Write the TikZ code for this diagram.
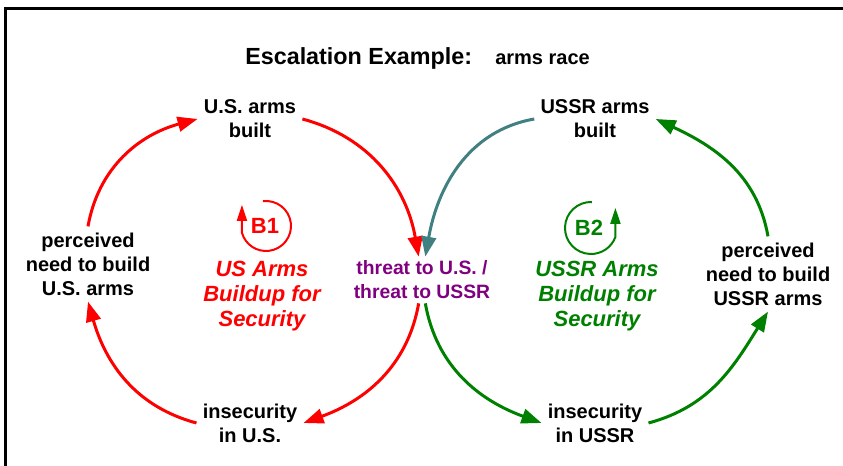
\documentclass[tikz,border=0pt]{standalone}
\usepackage{fontspec}
\setmainfont{Liberation Sans}
\usepackage{tikz}
\usetikzlibrary{arrows.meta}
\definecolor{cred}{HTML}{FF0000}
\definecolor{cgreen}{HTML}{008000}
\definecolor{cteal}{HTML}{408080}
\definecolor{cpurple}{HTML}{800080}
\tikzset{
  var/.style={align=center,inner sep=4.5pt,font=\bfseries\fontsize{15}{18}\selectfont},
  mid/.style={var,inner sep=3pt,text=cpurple,font=\bfseries\fontsize{14.5}{18}\selectfont},
  loopname/.style={align=center,inner sep=0pt,font=\bfseries\itshape\fontsize{16.5}{19}\selectfont},
  looptag/.style={inner sep=0pt,font=\bfseries\fontsize{16.5}{19}\selectfont},
  lnk/.style={line width=2.25pt,-{Triangle[length=15pt,width=11pt]}},
  lnkr/.style={lnk,draw=cred},
  lnkg/.style={lnk,draw=cgreen},
  lnkt/.style={lnk,draw=cteal},
  loopsym/.style={line width=1.5pt,-{Triangle[length=12pt,width=7.5pt]}},
}
\begin{document}
\begin{tikzpicture}[x=0.75pt,y=0.75pt]
  \useasboundingbox (0,0) rectangle (843,466);
  \draw[line width=2.25pt] (5.5,0) -- (5.5,457.5) -- (843,457.5);
  \node[anchor=base west,inner sep=0pt,font=\bfseries\fontsize{17.5}{20}\selectfont] (title) at (245,401) {Escalation Example:};
  \node[anchor=base west,inner sep=0pt,font=\bfseries\fontsize{15}{18}\selectfont] (subtitle) at (495,401) {arms race};
  \node[var] (usb) at (250,347) {U.S. arms\\built};
  \node[var] (ussrb) at (595,347) {USSR arms\\built};
  \node[var] (percus) at (88,202) {perceived\\need to build\\U.S. arms};
  \node[var] (percussr) at (768,192) {perceived\\need to build\\USSR arms};
  \node[mid] (threat) at (422,186) {threat to U.S. /\\threat to USSR};
  \node[var] (insus) at (250,43) {insecurity\\in U.S.};
  \node[var] (insussr) at (595,43) {insecurity\\in USSR};
  \node[looptag,text=cred] (b1) at (265,240) {B1};
  \node[looptag,text=cgreen] (b2) at (589,238) {B2};
  \node[loopname,text=cred] (loop1) at (262,170) {US Arms\\Buildup for\\Security};
  \node[loopname,text=cgreen] (loop2) at (597,170) {USSR Arms\\Buildup for\\Security};
  \draw[loopsym,cred] (266,240) ++(97:25) arc[start angle=97,end angle=-164,radius=25] -- ++(0,28);
  \draw[loopsym,cgreen] (591,238) ++(88:26) arc[start angle=88,end angle=340,radius=26] -- ++(0,29);
  \draw[lnkr] (percus.north) to[out=80,in=195] (usb.west);
  \draw[lnkr] (usb.east) to[out=-15,in=100] ([xshift=-2.5pt]threat.north);
  \draw[lnkr] ([xshift=-2.5pt]threat.south) to[out=-100,in=20] (insus.east);
  \draw[lnkr] (insus.west) to[out=165,in=-74] (percus.south);
  \draw[lnkt] (ussrb.west) to[out=190,in=80] ([xshift=2.5pt]threat.north);
  \draw[lnkg] ([xshift=2.5pt]threat.south) to[out=-80,in=160] (insussr.west);
  \draw[lnkg] (insussr.east) to[out=15,in=-122] (percussr.south);
  \draw[lnkg] (percussr.north) to[out=100,in=-25] (ussrb.east);
\end{tikzpicture}
\end{document}
